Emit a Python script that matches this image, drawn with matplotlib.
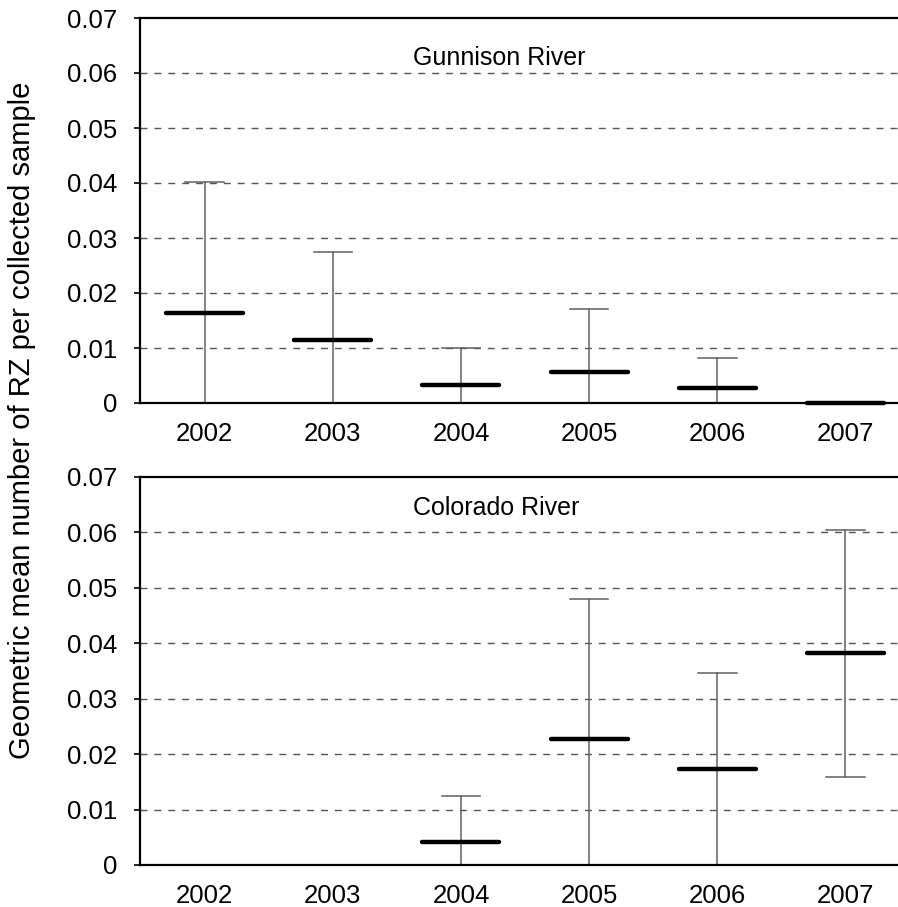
import matplotlib
matplotlib.use("Agg")
import matplotlib.pyplot as plt

plt.rcParams['font.family'] = ['Liberation Sans', 'DejaVu Sans']

YEARS = ['2002', '2003', '2004', '2005', '2006', '2007']

# Gunnison River: geometric mean, lower and upper limits (None = no data)
GUN_MEAN = [0.0163, 0.0114, 0.0033, 0.0057, 0.0027, 0.0]
GUN_LOW = [0.0, 0.0, 0.0, 0.0, 0.0, None]
GUN_HIGH = [0.0401, 0.0274, 0.0100, 0.0171, 0.0082, None]

# Colorado River
COL_MEAN = [None, None, 0.0042, 0.0227, 0.0173, 0.0382]
COL_LOW = [None, None, 0.0, 0.0, 0.0, 0.0159]
COL_HIGH = [None, None, 0.0124, 0.0479, 0.0346, 0.0605]

PANELS = [("Gunnison River", GUN_MEAN, GUN_LOW, GUN_HIGH),
          ("Colorado River", COL_MEAN, COL_LOW, COL_HIGH)]

W, H = 898, 907
fig = plt.figure(figsize=(W / 100, H / 100), dpi=100)

# axes boxes in pixels: left, top, bottom, title centre y (right edge runs off the figure)
BOXES = [(140, 18, 403, 58), (140, 477, 865, 508)]

for (name, mean, low, high), (left, top, bottom, ty) in zip(PANELS, BOXES):
    ax = fig.add_axes([left / W, 1 - bottom / H, 1 - left / W, (bottom - top) / H])
    ax.set_xlim(-0.504, 5.41)
    ax.set_ylim(0, 0.07)
    ax.set_yticks([0, 0.01, 0.02, 0.03, 0.04, 0.05, 0.06, 0.07])
    ax.set_yticklabels(['0', '0.01', '0.02', '0.03', '0.04', '0.05', '0.06', '0.07'])
    ax.set_xticks(range(len(YEARS)))
    ax.set_xticklabels(YEARS)
    ax.tick_params(axis='y', direction='out', length=4, width=1.2, pad=12.5, labelsize=18.5)
    ax.tick_params(axis='x', length=0, pad=14, labelsize=18.5)
    for s in ['top', 'bottom', 'left']:
        ax.spines[s].set_linewidth(1.6)
    ax.spines['right'].set_visible(False)

    for yv in [0.01, 0.02, 0.03, 0.04, 0.05, 0.06]:
        ax.axhline(yv, color='#555555', lw=1.0, linestyle=(0, (5, 5)), zorder=1)

    for i, m in enumerate(mean):
        if m is None:
            continue
        if low[i] is not None and high[i] is not None:
            ax.plot([i, i], [low[i], high[i]], color='#606060', lw=1.1, zorder=2)
            ax.plot([i - 0.15, i + 0.15], [high[i], high[i]], color='#606060', lw=1.1, zorder=2)
            if low[i] > 0:
                ax.plot([i - 0.15, i + 0.15], [low[i], low[i]], color='#606060', lw=1.1, zorder=2)
        ax.plot([i - 0.3, i + 0.3], [m, m], color='black', lw=3.2,
                solid_capstyle='round', zorder=3, clip_on=False)

    ax.text((413 - left) / (W - left), (bottom - ty) / (bottom - top), name,
            transform=ax.transAxes, fontsize=18, ha='left', va='center')

fig.text(22 / W, 1 - 420 / H, 'Geometric mean number of RZ per collected sample',
         rotation=90, ha='center', va='center', fontsize=21)

fig.savefig('out.png', dpi=100)
